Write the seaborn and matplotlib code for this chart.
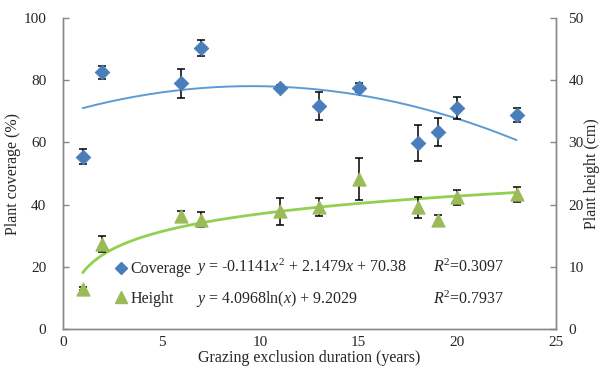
import numpy as np
import pandas as pd
import matplotlib
matplotlib.use("Agg")
import matplotlib.pyplot as plt
import seaborn as sns

# data
years = [1, 2, 6, 7, 11, 13, 15, 18, 19, 20, 23]
coverage = [55.4, 82.6, 79.0, 90.4, 77.6, 71.7, 77.6, 59.9, 63.3, 71.0, 68.8]
coverage_err = [2.4, 2.1, 4.6, 2.7, 1.0, 4.5, 1.4, 5.8, 4.5, 3.6, 2.3]
height = [6.5, 13.7, 18.2, 17.6, 18.9, 19.6, 24.1, 19.6, 17.5, 21.2, 21.7]
height_err = [0.3, 1.25, 0.85, 1.2, 2.1, 1.5, 3.35, 1.7, 0.8, 1.2, 1.2]

sns.set_style("white")
plt.rcParams["font.family"] = ["Liberation Serif", "DejaVu Serif"]
plt.rcParams["mathtext.fontset"] = "custom"
plt.rcParams["mathtext.rm"] = "Liberation Serif"
plt.rcParams["mathtext.it"] = "Liberation Serif:italic"

df = pd.DataFrame({"year": years, "coverage": coverage, "cov_err": coverage_err,
                   "height": height, "hgt_err": height_err})

blue_pt = "#4A7EBB"
blue_ln = "#5B9BD5"
green_pt = "#9BBB59"
green_ln = "#92D050"
grey = "#888888"

fig = plt.figure(figsize=(6.03, 3.76), dpi=100)
ax = fig.add_axes([0.1045, 0.125, 0.8175, 0.827])
ax2 = ax.twinx()

# trend lines fitted to the points
xs = np.linspace(1, 23, 200)
cov_fit = np.polyfit(df["year"], df["coverage"], 2)
hgt_fit = np.polyfit(np.log(df["year"]), df["height"], 1)
ax.plot(xs, np.polyval(cov_fit, xs), color=blue_ln, lw=1.4, zorder=2)
ax2.plot(xs, np.polyval(hgt_fit, np.log(xs)), color=green_ln, lw=2.0, zorder=2)

# error bars
ax.errorbar(df["year"], df["coverage"], yerr=df["cov_err"], fmt="none",
            ecolor="black", elinewidth=1.1, capsize=3, capthick=1.1, zorder=3)
ax2.errorbar(df["year"], df["height"], yerr=df["hgt_err"], fmt="none",
             ecolor="black", elinewidth=1.1, capsize=3, capthick=1.1, zorder=3)

# points
sns.scatterplot(data=df, x="year", y="coverage", ax=ax, marker="D", s=55,
                color=blue_pt, edgecolor=blue_pt, zorder=4, legend=False)
sns.scatterplot(data=df, x="year", y="height", ax=ax2, marker="^", s=90,
                color=green_pt, edgecolor=green_pt, zorder=4, legend=False)

ax.set_xlim(0, 25)
ax.set_ylim(0, 100)
ax2.set_ylim(0, 50)
ax.set_xticks(range(0, 26, 5))
ax.set_yticks(range(0, 101, 20))
ax2.set_yticks(range(0, 51, 10))

ax.set_xlabel("Grazing exclusion duration (years)", fontsize=11.5, labelpad=1)
ax.set_ylabel("Plant coverage (%)", fontsize=11.5, labelpad=2)
ax2.set_ylabel("Plant height (cm)", fontsize=11.5, labelpad=0)

for a in (ax, ax2):
    a.spines["top"].set_visible(False)
    for s in ("left", "right", "bottom"):
        a.spines[s].set_color(grey)
        a.spines[s].set_linewidth(1.0)
    a.tick_params(direction="in", length=4, color=grey, labelsize=11, width=1.0)
ax.tick_params(axis="x", pad=5)
ax.tick_params(axis="y", pad=12)
ax2.tick_params(axis="y", pad=9, left=False, right=True)

# legend
h1 = plt.Line2D([], [], marker="D", color=blue_pt, ls="none", markersize=6)
h2 = plt.Line2D([], [], marker="^", color=green_pt, ls="none", markersize=8)
ax.legend([h1, h2], ["Coverage", "Height"], loc="upper left",
          bbox_to_anchor=(0.085, 0.238), frameon=False, fontsize=11.5,
          handletextpad=0.0, handlelength=1.2, labelspacing=0.85, borderaxespad=0)

ax.text(0.27, 0.199, r"$y$ = -0.1141$x^2$ + 2.1479$x$ + 70.38", transform=ax.transAxes,
        fontsize=11.5, va="center")
ax.text(0.27, 0.095, r"$y$ = 4.0968ln($x$) + 9.2029", transform=ax.transAxes,
        fontsize=11.5, va="center")
ax.text(0.75, 0.199, r"$R^2$=0.3097", transform=ax.transAxes, fontsize=11.5, va="center")
ax.text(0.75, 0.095, r"$R^2$=0.7937", transform=ax.transAxes, fontsize=11.5, va="center")

fig.savefig("out.png", dpi=100)
